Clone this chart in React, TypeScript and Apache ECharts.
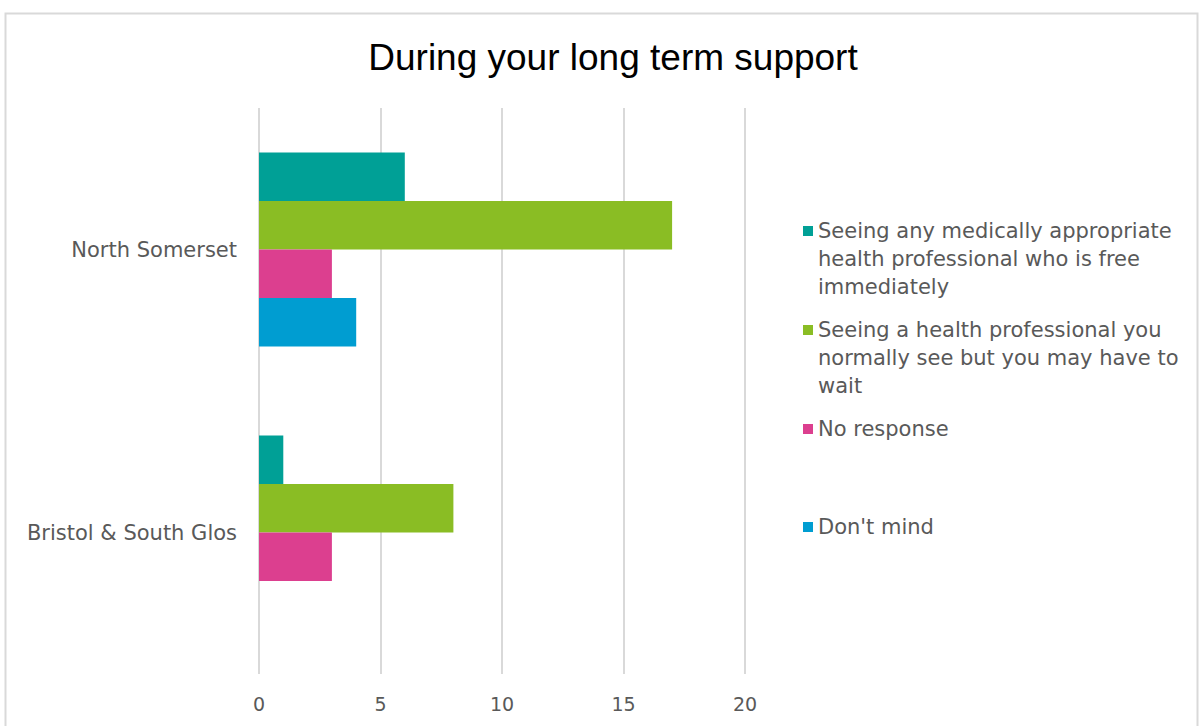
import React, { useEffect, useRef } from "react";
import * as echarts from "echarts";

const categories = ["North Somerset", "Bristol & South Glos"];
const seriesNames = [
  "Seeing any medically appropriate health professional who is free immediately",
  "Seeing a health professional you normally see but you may have to wait",
  "No response",
  "Don't mind",
];
const seriesColors = ["#00A096", "#8ABD24", "#DC3F8F", "#009DD1"];
const immediatelyValues = [6, 1];
const normallySeeValues = [17, 8];
const noResponseValues = [3, 3];
const dontMindValues = [4, 0];
const seriesValues = [immediatelyValues, normallySeeValues, noResponseValues, dontMindValues];
const xTicks = [0, 5, 10, 15, 20];

const LABEL_FONT = "DejaVu Sans";

export default function App() {
  const ref = useRef<HTMLDivElement>(null);
  useEffect(() => {
    if (!ref.current) return;
    const chart = echarts.init(ref.current, null, { renderer: "svg" });
    const legendTops = [217, 316, 415, 513];
    const legendGraphics: any[] = [];
    seriesNames.forEach((name, i) => {
      legendGraphics.push({
        type: "rect",
        shape: { x: 803, y: legendTops[i] + 9, width: 10, height: 10 },
        style: { fill: seriesColors[i] },
      });
      legendGraphics.push({
        type: "text",
        x: 818,
        y: legendTops[i],
        style: {
          text: name,
          fill: "#595959",
          font: `21px "${LABEL_FONT}"`,
          width: 372,
          overflow: "break",
          lineHeight: 28,
        },
      });
    });
    chart.setOption({
      animation: false,
      backgroundColor: "#ffffff",
      title: {
        text: "During your long term support",
        left: 608,
        top: 34,
        textAlign: "center",
        textStyle: {
          fontFamily: "Liberation Sans",
          fontSize: 37,
          fontWeight: "normal",
          color: "#000000",
        },
      },
      graphic: [
        {
          type: "rect",
          shape: { x: 5.5, y: 13.5, width: 1192, height: 760 },
          style: { fill: "none", stroke: "#d9d9d9", lineWidth: 2 },
          silent: true,
        },
        ...legendGraphics,
      ],
      grid: { left: 259, right: 454, top: 108, bottom: 52, containLabel: false },
      xAxis: {
        type: "value",
        min: xTicks[0],
        max: xTicks[xTicks.length - 1],
        interval: 5,
        axisLine: { show: false },
        axisTick: { show: false },
        splitLine: { lineStyle: { color: "#d9d9d9", width: 2 } },
        axisLabel: {
          color: "#595959",
          fontFamily: LABEL_FONT,
          fontSize: 19,
          margin: 20,
        },
      },
      yAxis: {
        type: "category",
        data: categories,
        inverse: true,
        axisLine: { show: false },
        axisTick: { show: false },
        axisLabel: {
          color: "#595959",
          fontFamily: LABEL_FONT,
          fontSize: 21,
          margin: 22,
        },
      },
      series: seriesNames.map((name, i) => ({
        name,
        type: "bar",
        data: seriesValues[i],
        barGap: "0%",
        barCategoryGap: "31.5%",
        itemStyle: { color: seriesColors[i] },
      })),
    });
    return () => chart.dispose();
  }, []);
  return (
    <div
      ref={ref}
      style={{ position: "fixed", left: 0, top: 0, width: 1199, height: 726 }}
    />
  );
}
